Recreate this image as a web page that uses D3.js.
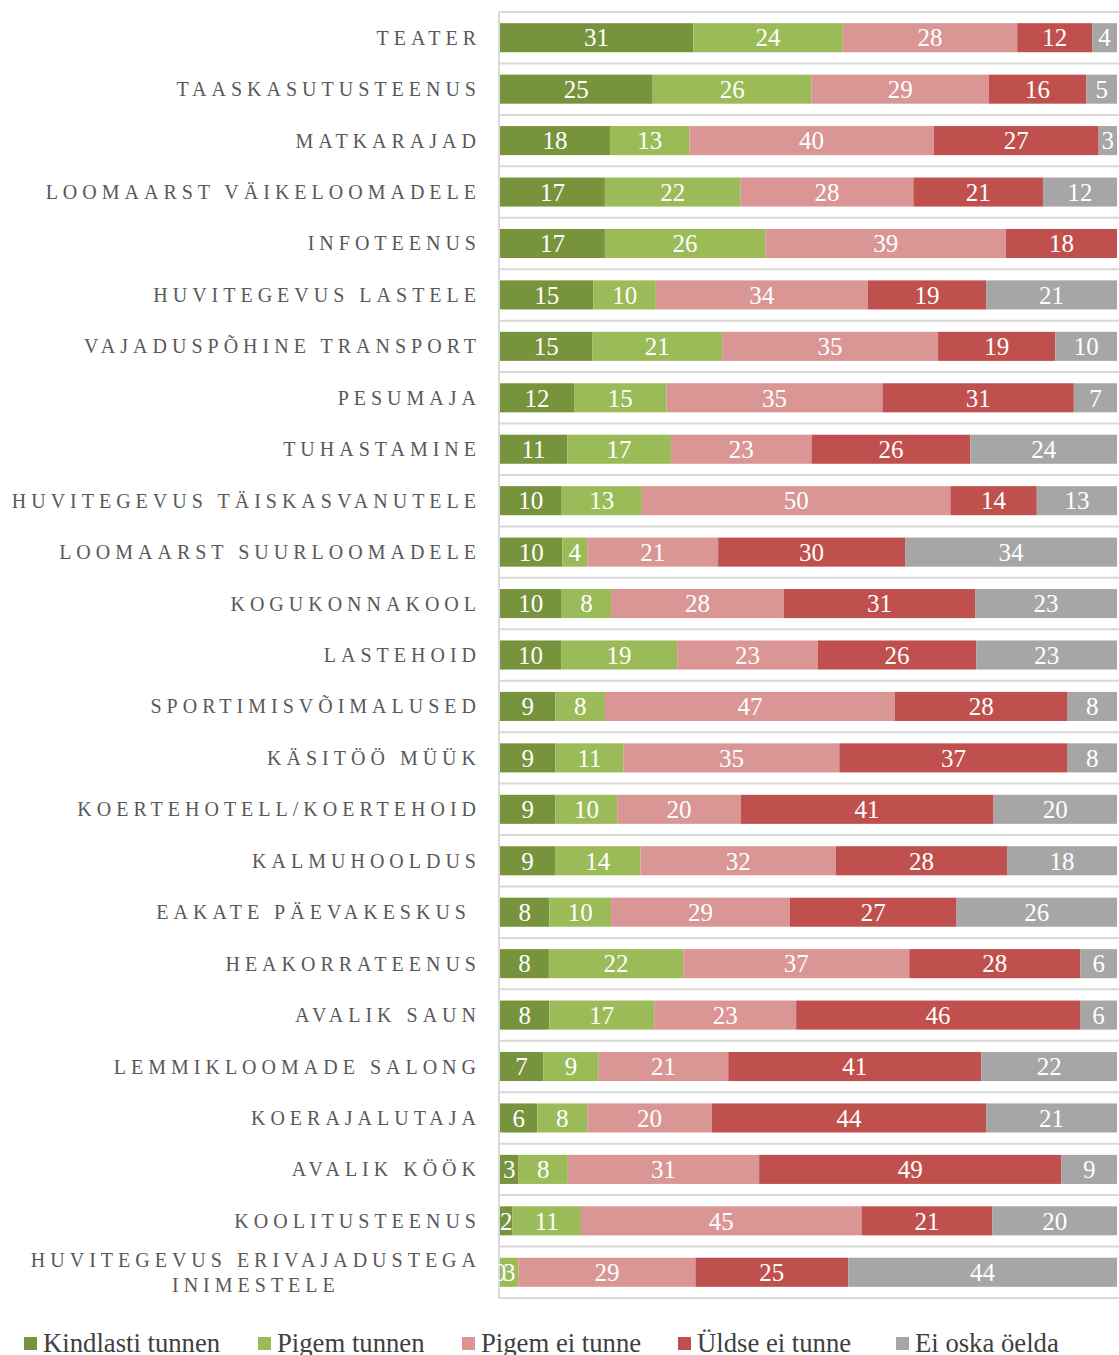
<!DOCTYPE html>
<html lang="et">
<head>
<meta charset="UTF-8">
<title>Teenuste tundmine</title>
<script src="https://d3js.org/d3.v7.min.js"></script>
<style>
  body { margin: 0; background: #fff; }
  svg { display: block; }
  .cat { font-family: "Liberation Serif", "Times New Roman", serif; font-size: 20px; fill: #595959; letter-spacing: 5px; }
  .val { font-family: "Liberation Serif", "Times New Roman", serif; font-size: 25px; fill: #fff; }
  .leg { font-family: "Liberation Serif", "Times New Roman", serif; font-size: 26.7px; fill: #404040; }
</style>
</head>
<body>
<svg width="1119" height="1355"></svg>
<script>
// categories, top to bottom
let categories = [
  "TEATER", "TAASKASUTUSTEENUS", "MATKARAJAD", "LOOMAARST VÄIKELOOMADELE", "INFOTEENUS",
  "HUVITEGEVUS LASTELE", "VAJADUSPÕHINE TRANSPORT", "PESUMAJA", "TUHASTAMINE",
  "HUVITEGEVUS TÄISKASVANUTELE", "LOOMAARST SUURLOOMADELE", "KOGUKONNAKOOL", "LASTEHOID",
  "SPORTIMISVÕIMALUSED", "KÄSITÖÖ MÜÜK", "KOERTEHOTELL/KOERTEHOID", "KALMUHOOLDUS",
  "EAKATE PÄEVAKESKUS\u00a0", "HEAKORRATEENUS", "AVALIK SAUN", "LEMMIKLOOMADE SALONG",
  "KOERAJALUTAJA", "AVALIK KÖÖK", "KOOLITUSTEENUS", "HUVITEGEVUS ERIVAJADUSTEGA|INIMESTELE"
];
let seriesNames = ["Kindlasti tunnen", "Pigem tunnen", "Pigem ei tunne", "Üldse ei tunne", "Ei oska öelda"];
let kindlasti = [31, 25, 18, 17, 17, 15, 15, 12, 11, 10, 10, 10, 10, 9, 9, 9, 9, 8, 8, 8, 7, 6, 3, 2, 0];
let pigem     = [24, 26, 13, 22, 26, 10, 21, 15, 17, 13, 4, 8, 19, 8, 11, 10, 14, 10, 22, 17, 9, 8, 8, 11, 3];
let pigemEi   = [28, 29, 40, 28, 39, 34, 35, 35, 23, 50, 21, 28, 23, 47, 35, 20, 32, 29, 37, 23, 21, 20, 31, 45, 29];
let yldseEi   = [12, 16, 27, 21, 18, 19, 19, 31, 26, 14, 30, 31, 26, 28, 37, 41, 28, 27, 28, 46, 41, 44, 49, 21, 25];
let eiOska    = [4, 5, 3, 12, null, 21, 10, 7, 24, 13, 34, 23, 23, 8, 8, 20, 18, 26, 6, 6, 22, 21, 9, 20, 44];
let colors = ["#77933c", "#9bbb59", "#d99694", "#c0504d", "#a6a6a6"];

let svg = d3.select("svg");
let keys = ["k0", "k1", "k2", "k3", "k4"];
let cols = [kindlasti, pigem, pigemEi, yldseEi, eiOska];
let data = categories.map(function (c, i) {
  let row = { cat: c };
  keys.forEach(function (k, j) { row[k] = cols[j][i]; });
  return row;
});

let stack = d3.stack().keys(keys)
  .value(function (d, k) { return d[k] == null ? 0 : d[k]; })
  .offset(d3.stackOffsetExpand);
let stacked = stack(data);

let x = d3.scaleLinear().domain([0, 1]).range([500, 1117]);
let y = d3.scaleBand().domain(categories).range([12, 1298]).paddingInner(0.435).paddingOuter(0.2175);
let step = y.step();

// grid lines between rows
let grid = svg.append("g");
d3.range(categories.length + 1).forEach(function (i) {
  let yy = 12 + i * step;
  grid.append("line").attr("x1", 499).attr("x2", 1119).attr("y1", yy).attr("y2", yy)
    .attr("stroke", "#d9d9d9").attr("stroke-width", 2);
});
grid.append("line").attr("x1", 499).attr("x2", 499).attr("y1", 12).attr("y2", 1298)
  .attr("stroke", "#d9d9d9").attr("stroke-width", 2);

let groups = svg.selectAll("g.series").data(stacked).enter().append("g")
  .attr("class", "series")
  .style("fill", function (d, i) { return colors[i]; });

groups.selectAll("rect").data(function (d) { return d; }).enter().append("rect")
  .attr("x", function (d) { return x(d[0]); })
  .attr("y", function (d) { return y(d.data.cat); })
  .attr("width", function (d) { return x(d[1]) - x(d[0]); })
  .attr("height", y.bandwidth());

// value labels
stacked.forEach(function (s) {
  svg.append("g").selectAll("text").data(s.filter(function (d) { return d.data[s.key] != null; }))
    .enter().append("text")
    .attr("class", "val")
    .attr("x", function (d) { return (x(d[0]) + x(d[1])) / 2; })
    .attr("y", function (d) { return y(d.data.cat) + y.bandwidth() / 2; })
    .attr("dy", "0.35em")
    .attr("text-anchor", "middle")
    .text(function (d) { return d.data[s.key]; });
});

// category labels
let labelG = svg.append("g");
categories.forEach(function (c) {
  let cy = y(c) + y.bandwidth() / 2;
  let lines = c.split("|");
  if (lines.length == 1) {
    labelG.append("text").attr("class", "cat")
      .attr("x", 481).attr("y", cy).attr("dy", "0.35em")
      .attr("text-anchor", "end").text(c);
  } else {
    let t = labelG.append("text").attr("class", "cat").attr("text-anchor", "middle");
    lines.forEach(function (l, i) {
      t.append("tspan").text(l).attr("x", 0).attr("y", cy - 12 + i * 25).attr("dy", "0.35em");
    });
    let w = t.node().getBBox().width;
    t.selectAll("tspan").attr("x", 481 - w / 2);
  }
});

// legend
let legendX = [24, 258, 462, 678, 896];
let legend = svg.append("g");
seriesNames.forEach(function (n, i) {
  legend.append("rect").attr("x", legendX[i]).attr("y", 1337).attr("width", 13).attr("height", 13)
    .attr("fill", colors[i]);
  legend.append("text").attr("class", "leg").attr("x", legendX[i] + 19).attr("y", 1352).text(n);
});
</script>
</body>
</html>
